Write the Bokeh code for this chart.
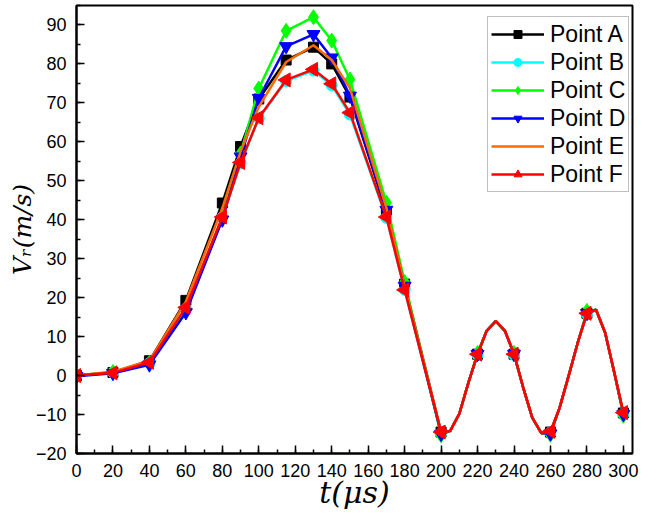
import math
from bokeh.plotting import figure
from bokeh.models import Range1d, FixedTicker
from bokeh.embed import file_html
from bokeh.resources import INLINE

# time of the marker samples (µs)
t_mark = [0, 20, 40, 60, 80, 90, 100, 115, 130, 140, 150, 170, 180, 200, 220, 240, 260, 280, 300]

va = [0.0, 0.8, 3.8, 19.3, 44.3, 58.8, 71.0, 81.0, 84.3, 80.0, 71.5, 42.0, 23.5, -14.5, 5.5, 5.5, -14.5, 16.0, -9.6]
vb = [0.0, 0.8, 3.2, 17.2, 40.6, 54.5, 66.0, 75.6, 78.3, 74.5, 67.0, 40.5, 22.0, -14.8, 5.3, 5.3, -14.6, 15.8, -9.9]
vc = [0.0, 0.9, 3.2, 17.0, 40.5, 57.0, 73.7, 88.5, 92.0, 86.0, 76.0, 44.4, 24.0, -15.3, 5.8, 5.8, -15.2, 16.6, -10.3]
vd = [-0.2, 0.6, 2.8, 16.2, 40.0, 56.2, 71.2, 84.5, 87.6, 81.6, 71.8, 42.5, 23.0, -15.0, 5.5, 5.5, -14.9, 16.0, -9.9]
ve = [0.0, 1.0, 3.8, 19.0, 43.0, 57.5, 69.0, 80.5, 84.8, 81.0, 73.8, 43.0, 23.0, -14.5, 5.5, 5.5, -14.5, 16.0, -9.7]
vf = [0.0, 0.7, 3.4, 17.5, 40.7, 54.7, 66.2, 75.9, 78.6, 74.9, 67.5, 40.7, 22.0, -14.5, 5.5, 5.5, -14.3, 16.0, -9.5]

# extra line vertices between markers in the oscillating tail (shared by all curves)
t_tail = [205, 210, 215, 225, 230, 235, 245, 250, 255, 265, 270, 275, 285, 290, 295]
v_tail = [-14.2, -9.8, -1.8, 11.5, 14.0, 11.5, -3.0, -10.8, -14.8, -8.3, 0.0, 8.5, 16.9, 11.0, 0.8]

names = ["Point A", "Point B", "Point C", "Point D", "Point E", "Point F"]
colors = ["#000000", "#00FFFF", "#00FF00", "#0000FF", "#FF6A00", "#FF0000"]
markers = ["square", "circle", "diamond", "inverted_triangle", None, "triangle"]
msizes = [10, 11, 15, 13, 0, 14]
angles = [0, 0, 0, 0, 0, math.pi / 2]
series = [va, vb, vc, vd, ve, vf]

x_ticks = list(range(0, 301, 20))
x_minor = list(range(0, 306, 10))
y_ticks = list(range(-20, 91, 10))
y_minor = list(range(-20, 96, 5))

p = figure(width=653, height=519, output_backend="svg", toolbar_location=None,
           x_range=Range1d(0, 305), y_range=Range1d(-20, 95),
           min_border_left=76, min_border_right=21, min_border_top=5, min_border_bottom=66)
p.background_fill_color = "white"
p.border_fill_color = "white"
p.xgrid.grid_line_color = None
p.ygrid.grid_line_color = None
p.outline_line_color = "black"
p.outline_line_width = 2

for ax in (p.xaxis[0], p.yaxis[0]):
    ax.axis_line_width = 2
    ax.major_tick_in = 8
    ax.major_tick_out = 0
    ax.minor_tick_in = 4
    ax.minor_tick_out = 0
    ax.major_tick_line_width = 1.5
    ax.minor_tick_line_width = 1.5
    ax.major_label_text_font = "Liberation Sans"
    ax.major_label_text_font_size = "18px"
    ax.major_label_text_color = "black"
    ax.major_label_standoff = 10
    ax.axis_label_text_font = "DejaVu Serif"
    ax.axis_label_text_font_style = "italic"
    ax.axis_label_text_color = "black"

p.xaxis.ticker = FixedTicker(ticks=x_ticks, minor_ticks=x_minor)
p.yaxis.ticker = FixedTicker(ticks=y_ticks, minor_ticks=y_minor)
p.xaxis.axis_label = "t(μs)"
p.xaxis.axis_label_text_font_size = "30px"
p.xaxis.axis_label_standoff = -5
p.yaxis.axis_label = "Vᵣ(m/s)"
p.yaxis.axis_label_text_font_size = "25px"
p.yaxis.axis_label_standoff = -4

for name, col, mk, ms, ang, vals in zip(names, colors, markers, msizes, angles, series):
    pts = sorted(list(zip(t_mark, vals)) + list(zip(t_tail, v_tail)))
    lx = [a for a, b in pts]
    ly = [b for a, b in pts]
    p.line(lx, ly, line_color=col, line_width=2.5, legend_label=name)
    if mk is not None:
        p.scatter(t_mark, vals, marker=mk, size=ms, angle=ang, fill_color=col,
                  line_color=col, legend_label=name)

lg = p.legend[0]
lg.location = (411, 261)
lg.label_text_font = "Liberation Sans"
lg.label_text_font_size = "23px"
lg.label_text_color = "black"
lg.glyph_width = 53
lg.glyph_height = 20
lg.label_height = 28
lg.label_standoff = 6
lg.spacing = 0
lg.padding = 3
lg.margin = 0
lg.border_line_color = "#808080"
lg.border_line_width = 1
lg.background_fill_color = "white"
lg.background_fill_alpha = 1

open("out.html", "w").write(file_html(p, INLINE))
